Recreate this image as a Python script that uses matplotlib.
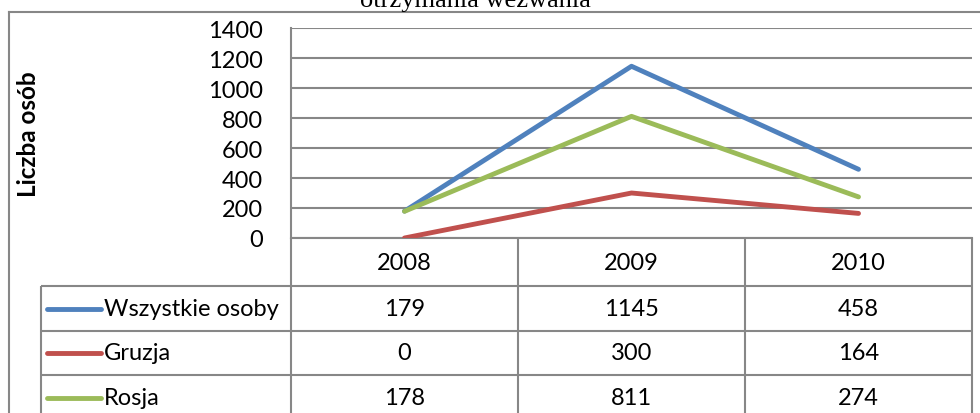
import matplotlib
matplotlib.use("Agg")
import matplotlib.pyplot as plt
from matplotlib.lines import Line2D
import matplotlib.transforms as mtransforms

years = ["2008", "2009", "2010"]
series_names = ["Wszystkie osoby", "Gruzja", "Rosja"]
wszystkie = [179, 1145, 458]
gruzja = [0, 300, 164]
rosja = [178, 811, 274]
yticks = [0, 200, 400, 600, 800, 1000, 1200, 1400]
title = "otrzymania wezwania"
ylabel = "Liczba osób"

colors = ["#4F81BD", "#C0504D", "#9BBB59"]
grid_c = "#878787"
FONT = "Lato"
FS = 17

W, H = 980, 414
fig = plt.figure(figsize=(W / 100, H / 100), dpi=100)

# plot area in pixels
L, R, T, B = 291, 972, 29, 239
ax = fig.add_axes([L / W, (H - B) / H, (R - L) / W, (B - T) / H])

x = list(range(len(years)))
all_series = [wszystkie, gruzja, rosja]
for vals, c in zip(all_series, colors):
    ax.plot(x, vals, color=c, lw=3.5, solid_capstyle="round", zorder=3)

ax.set_xlim(-0.5, len(years) - 0.5)
ax.set_ylim(0, 1400)
ax.set_yticks(yticks)
ax.set_yticklabels([str(v) for v in yticks], fontsize=FS, family=FONT)
ax.set_xticks([])
ax.yaxis.grid(True, color=grid_c, lw=1.5)
ax.set_axisbelow(True)
ax.tick_params(axis="y", length=0, pad=20)
for s in ["top", "right"]:
    ax.spines[s].set_visible(False)
for s in ["left", "bottom"]:
    ax.spines[s].set_color(grid_c)
    ax.spines[s].set_linewidth(1.5)

# ---- data table drawn below the axis ----
def fx(px):
    return (px - L) / (R - L)

def fy(py):
    return (B - py) / (B - T)

blend = mtransforms.blended_transform_factory(ax.transData, ax.transAxes)
lk = dict(color=grid_c, lw=1.5, clip_on=False, solid_capstyle="butt")

header_bottom = 287
row_edges = [287, 332, 376, 421]
label_left = 41
n = len(years)

for i in range(n + 1):
    xb = i - 0.5
    ax.plot([xb, xb], [fy(B), fy(row_edges[-1])], transform=blend, **lk)
ax.plot([fx(label_left), fx(label_left)], [fy(header_bottom), fy(row_edges[-1])],
        transform=ax.transAxes, **lk)
for ye in row_edges:
    ax.plot([fx(label_left), 1], [fy(ye), fy(ye)], transform=ax.transAxes, **lk)

for i, yr in enumerate(years):
    ax.text(i, fy((B + header_bottom) / 2), yr, transform=blend, ha="center", va="center",
            fontsize=FS, family=FONT, clip_on=False)

for r, (name, c, vals) in enumerate(zip(series_names, colors, all_series)):
    yc = (row_edges[r] + row_edges[r + 1]) / 2
    ax.plot([fx(47), fx(101)], [fy(yc), fy(yc)], transform=ax.transAxes,
            color=c, lw=3.5, solid_capstyle="round", clip_on=False, zorder=5)
    ax.text(fx(104), fy(yc), name, transform=ax.transAxes, ha="left", va="center",
            fontsize=FS, family=FONT, clip_on=False)
    for i, v in enumerate(vals):
        ax.text(i, fy(yc), str(v), transform=blend, ha="center", va="center",
                fontsize=FS, family=FONT, clip_on=False)

fig.text(28 / W, 1 - ((T + B) / 2) / H, ylabel, rotation=90, ha="center", va="center",
         fontsize=17.5, fontweight="bold", family=FONT)

fig.text(475 / W, 1 - 7.5 / H, title, ha="center", va="baseline",
         fontsize=19, family="Liberation Serif")

fig.add_artist(Line2D([8.5 / W, 8.5 / W], [0, 1 - 12.5 / H], transform=fig.transFigure,
                      color=grid_c, lw=1.5))
fig.add_artist(Line2D([8.5 / W, 1], [1 - 12.5 / H, 1 - 12.5 / H], transform=fig.transFigure,
                      color=grid_c, lw=1.5))

fig.savefig("out.png", dpi=100, facecolor="white")
